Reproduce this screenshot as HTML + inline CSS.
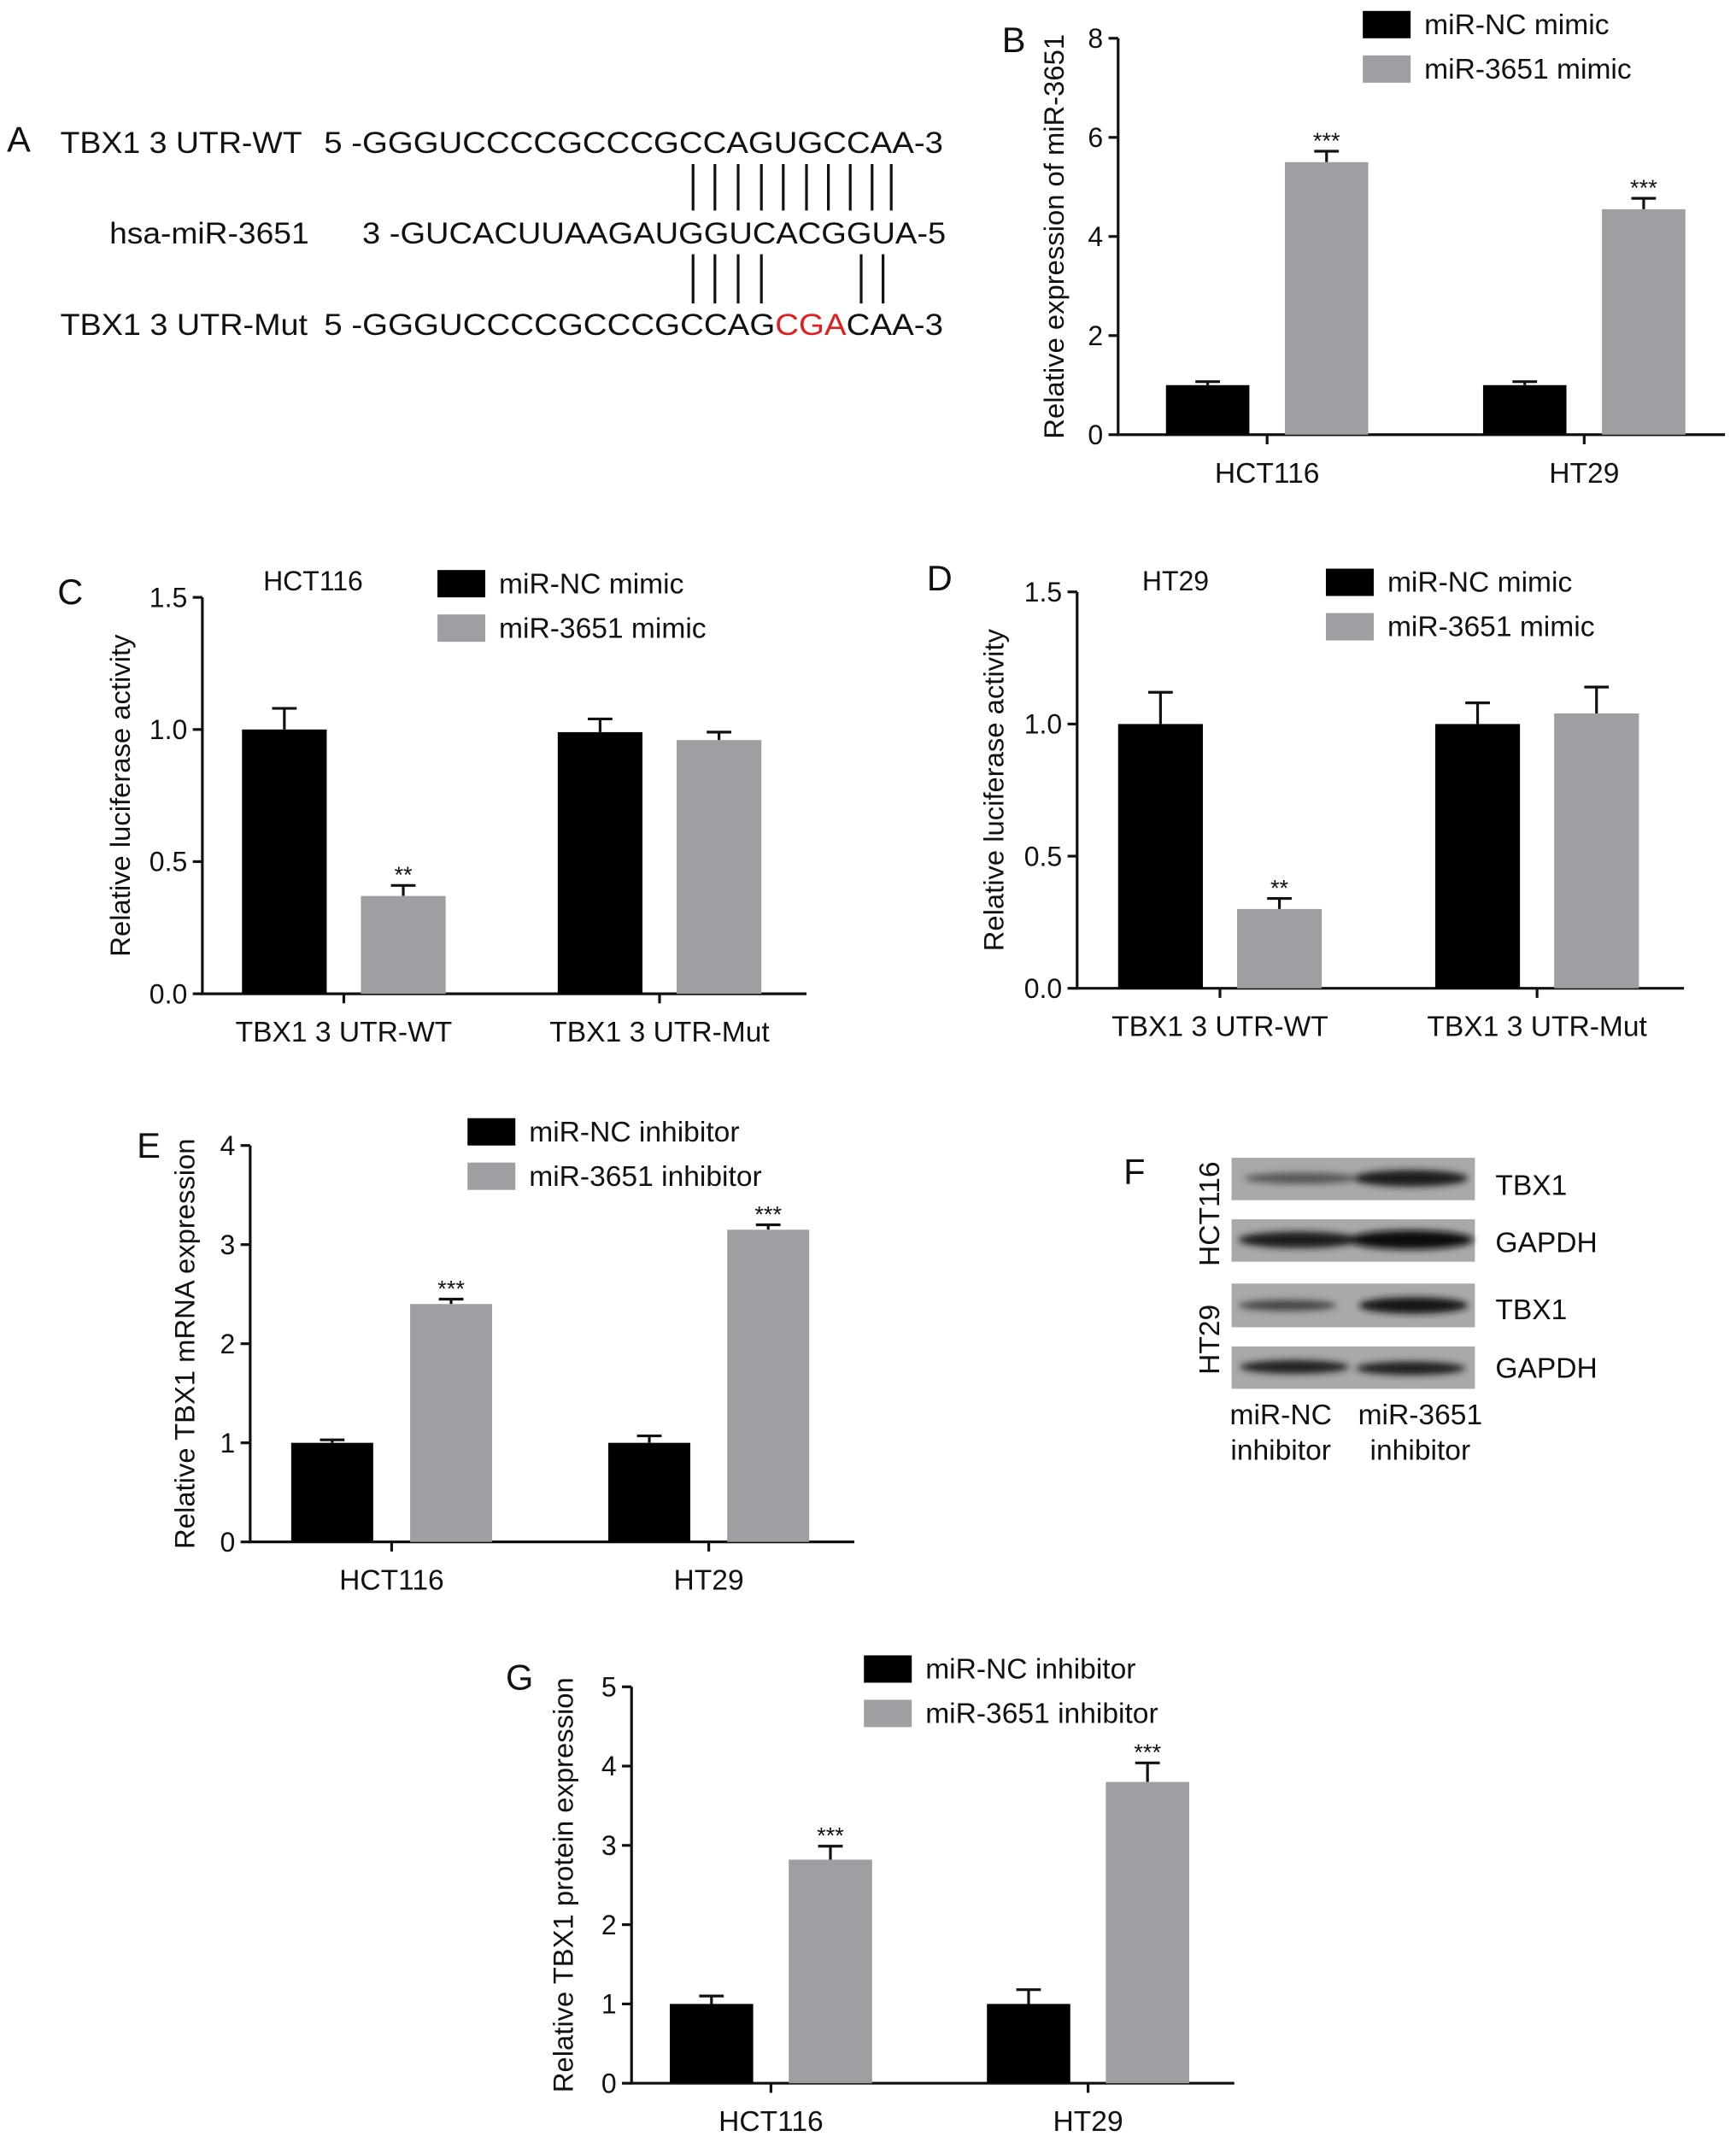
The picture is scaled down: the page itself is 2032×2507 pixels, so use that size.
<!DOCTYPE html>
<html><head><meta charset="utf-8"><style>
html,body{margin:0;padding:0;background:#fff;}
svg{display:block;font-family:"Liberation Sans",Arial,sans-serif;}
</style></head><body>
<svg id="fig" width="2032" height="2507" viewBox="0 0 1270 1567" xmlns="http://www.w3.org/2000/svg">
<defs>
<filter id="blur" x="-20%" y="-50%" width="140%" height="200%"><feGaussianBlur stdDeviation="2.5"/></filter>
</defs>
<!-- Panel A -->
<g font-size="22" fill="#111">
<text x="5" y="111" font-size="26">A</text>
<text x="44" y="112" textLength="177" lengthAdjust="spacingAndGlyphs">TBX1 3 UTR-WT</text>
<text x="237" y="112" textLength="453" lengthAdjust="spacingAndGlyphs">5 -GGGUCCCCGCCCGCCAGUGCCAA-3</text>
<text x="80" y="178" textLength="146" lengthAdjust="spacingAndGlyphs">hsa-miR-3651</text>
<text x="265" y="178" textLength="427" lengthAdjust="spacingAndGlyphs">3 -GUCACUUAAGAUGGUCACGGUA-5</text>
<text x="44" y="245" textLength="181" lengthAdjust="spacingAndGlyphs">TBX1 3 UTR-Mut</text>
<text x="237" y="245" textLength="453" lengthAdjust="spacingAndGlyphs">5 -GGGUCCCCGCCCGCCAG<tspan fill="#e02020">CGA</tspan>CAA-3</text>
<g stroke="#111" stroke-width="2">
<line x1="507" y1="120" x2="507" y2="154"/><line x1="523" y1="120" x2="523" y2="154"/><line x1="540" y1="120" x2="540" y2="154"/><line x1="557" y1="120" x2="557" y2="154"/><line x1="573" y1="120" x2="573" y2="154"/><line x1="590" y1="120" x2="590" y2="154"/><line x1="606" y1="120" x2="606" y2="154"/><line x1="622" y1="120" x2="622" y2="154"/><line x1="638" y1="120" x2="638" y2="154"/><line x1="652" y1="120" x2="652" y2="154"/>
</g>
<g stroke="#111" stroke-width="2">
<line x1="507" y1="186" x2="507" y2="222"/><line x1="523" y1="186" x2="523" y2="222"/><line x1="540" y1="186" x2="540" y2="222"/><line x1="557" y1="186" x2="557" y2="222"/><line x1="630" y1="186" x2="630" y2="222"/><line x1="646" y1="186" x2="646" y2="222"/>
</g>
</g>
<!-- Panel F -->
<g font-size="21" fill="#111">
<text x="822" y="866" font-size="26">F</text>
<rect x="901" y="847" width="178" height="31" fill="#a9a9a9"/>
<rect x="901" y="892" width="178" height="31" fill="#a9a9a9"/>
<rect x="901" y="939" width="178" height="32" fill="#a9a9a9"/>
<rect x="901" y="985" width="178" height="31" fill="#a9a9a9"/>
<g filter="url(#blur)">
<ellipse cx="952" cy="862" rx="42" ry="4" fill="#555"/><ellipse cx="1032" cy="862" rx="42" ry="6" fill="#1a1a1a"/>
<ellipse cx="950" cy="907" rx="44" ry="6" fill="#1a1a1a"/><ellipse cx="1032" cy="907" rx="46" ry="7" fill="#111"/>
<ellipse cx="942" cy="955" rx="36" ry="4" fill="#444"/><ellipse cx="1034" cy="955" rx="40" ry="6" fill="#151515"/>
<ellipse cx="947" cy="1000" rx="40" ry="5" fill="#222"/><ellipse cx="1032" cy="1001" rx="40" ry="5" fill="#222"/>
</g>
<text x="1094" y="874">TBX1</text>
<text x="1094" y="916">GAPDH</text>
<text x="1094" y="965">TBX1</text>
<text x="1094" y="1008">GAPDH</text>
<text transform="translate(892,888) rotate(-90)" text-anchor="middle">HCT116</text>
<text transform="translate(892,980) rotate(-90)" text-anchor="middle">HT29</text>
<text x="937" y="1042" text-anchor="middle">miR-NC</text>
<text x="937" y="1068" text-anchor="middle">inhibitor</text>
<text x="1039" y="1042" text-anchor="middle">miR-3651</text>
<text x="1039" y="1068" text-anchor="middle">inhibitor</text>
</g>
<g id="charts"></g>
</svg>
<script>
// Panel B data
const bCats = ["HCT116","HT29"];
const bNC = [1.0, 1.0];
const bNCerr = [0.07, 0.07];
const bMim = [5.5, 4.55];
const bMimErr = [0.22, 0.22];
const bTicks = [0,2,4,6,8];
const bSig = ["","***","","***"];
// Panel C data
const cCats = ["TBX1 3 UTR-WT","TBX1 3 UTR-Mut"];
const cNC = [1.0, 0.99];
const cNCerr = [0.08, 0.05];
const cMim = [0.37, 0.96];
const cMimErr = [0.04, 0.03];
const cTicks = ["0.0","0.5","1.0","1.5"];
const cSig = ["","**","",""];
// Panel D data
const dCats = ["TBX1 3 UTR-WT","TBX1 3 UTR-Mut"];
const dNC = [1.0, 1.0];
const dNCerr = [0.12, 0.08];
const dMim = [0.3, 1.04];
const dMimErr = [0.04, 0.1];
const dTicks = ["0.0","0.5","1.0","1.5"];
const dSig = ["","**","",""];
// Panel E data
const eCats = ["HCT116","HT29"];
const eNC = [1.0, 1.0];
const eNCerr = [0.03, 0.07];
const eInh = [2.4, 3.15];
const eInhErr = [0.05, 0.05];
const eTicks = [0,1,2,3,4];
const eSig = ["","***","","***"];
// Panel G data
const gCats = ["HCT116","HT29"];
const gNC = [1.0, 1.0];
const gNCerr = [0.1, 0.18];
const gInh = [2.82, 3.8];
const gInhErr = [0.17, 0.24];
const gTicks = [0,1,2,3,4,5];
const gSig = ["","***","","***"];

const NS="http://www.w3.org/2000/svg";
const root=document.getElementById("charts");
function mk(tag,attrs,parent,txt){const e=document.createElementNS(NS,tag);for(const k in attrs)e.setAttribute(k,attrs[k]);if(txt!==undefined)e.textContent=txt;parent.appendChild(e);return e;}

function chart(o){
  const g=mk("g",{},root);
  
  
  const maxV=parseFloat(o.ticks[o.ticks.length-1]);
  const y=v=>o.y0-(v/maxV)*(o.y0-o.yTop);
  const ax=mk("path",{d:`M${o.ax},${o.yTop} V${o.y0} H${o.axEnd}`,stroke:"#111","stroke-width":2,fill:"none"},g);
  
  
  o.ticks.forEach(t=>{
    const v=parseFloat(t),yy=y(v);
    mk("line",{x1:o.ax-7,x2:o.ax,y1:yy,y2:yy,stroke:"#111","stroke-width":2},g);
    const tl=mk("text",{x:o.ax-11,y:yy+7,"text-anchor":"end","font-size":20,fill:"#111"},g,String(t));
    
    
  });
  const yt=mk("text",{transform:`translate(${o.titleX},${(o.y0+o.yTop)/2}) rotate(-90)`,"text-anchor":"middle","font-size":20.5,fill:"#111"},g,o.ytitle);
  
  
  const series=[[o.s1,o.e1,"#000"],[o.s2,o.e2,"#9e9ea3"]];
  o.cats.forEach((c,i)=>{
    const gx=o.first+i*o.groupStep;
    series.forEach((s,j)=>{
      const x=gx+j*o.barStep, v=s[0][i], e=s[1][i];
      const top=y(v), et=y(v+e);
      mk("line",{x1:x+o.bw/2,x2:x+o.bw/2,y1:top,y2:et,stroke:"#111","stroke-width":2},g);
      mk("line",{x1:x+o.bw/2-9,x2:x+o.bw/2+9,y1:et,y2:et,stroke:"#111","stroke-width":2},g);
      const r=mk("rect",{x:x,y:top,width:o.bw,height:o.y0-top,fill:s[2]},g);
      
      
      const sg=o.sig[i*2+j];
      if(sg){const st=mk("text",{x:x+o.bw/2,y:et-2,"text-anchor":"middle","font-size":17,fill:"#111"},g,sg);
        
        }
    });
    const cx=gx+(o.barStep+o.bw)/2;
    mk("line",{x1:cx,x2:cx,y1:o.y0,y2:o.y0+7,stroke:"#111","stroke-width":2},g);
    const xl=mk("text",{x:cx,y:o.y0+35,"text-anchor":"middle","font-size":21,fill:"#111"},g,c);
    
    
  });
  o.leg.forEach((l,k)=>{
    const ly=o.legY+k*32.5;
    const lr=mk("rect",{x:o.legX,y:ly,width:35,height:20,fill:k?"#9e9ea3":"#000"},g);
    
    
    const lt=mk("text",{x:o.legX+45,y:ly+17,"font-size":21,fill:"#111"},g,l);
    
    
  });
  const pl=mk("text",{x:o.pl[0],y:o.pl[1],"font-size":26,fill:"#111"},g,o.letter);
  
  
  if(o.title){const tt=mk("text",{x:o.title[0],y:o.title[1],"text-anchor":"middle","font-size":20,fill:"#111"},g,o.title[2]);
    
    }
}
const mim=["miR-NC mimic","miR-3651 mimic"], inh=["miR-NC inhibitor","miR-3651 inhibitor"];
chart({name:"panel-b-chart",letter:"B",pl:[733,38],ax:818,axEnd:1262,y0:318,yTop:28,ticks:bTicks,cats:bCats,s1:bNC,e1:bNCerr,s2:bMim,e2:bMimErr,sig:bSig,first:853,groupStep:232,barStep:87,bw:61,titleX:778,ytitle:"Relative expression of miR-3651",leg:mim,legX:997,legY:8});
chart({name:"panel-c-chart",letter:"C",pl:[42,442],ax:148,axEnd:590,y0:727,yTop:437,ticks:cTicks,cats:cCats,s1:cNC,e1:cNCerr,s2:cMim,e2:cMimErr,sig:cSig,first:177,groupStep:231,barStep:87,bw:62,titleX:95,ytitle:"Relative luciferase activity",leg:mim,legX:320,legY:417,title:[229,432,"HCT116"]});
chart({name:"panel-d-chart",letter:"D",pl:[678,432],ax:788,axEnd:1232,y0:723,yTop:433,ticks:dTicks,cats:dCats,s1:dNC,e1:dNCerr,s2:dMim,e2:dMimErr,sig:dSig,first:818,groupStep:232,barStep:87,bw:62,titleX:734,ytitle:"Relative luciferase activity",leg:mim,legX:970,legY:416,title:[860,432,"HT29"]});
chart({name:"panel-e-chart",letter:"E",pl:[100,847],ax:183,axEnd:625,y0:1128,yTop:838,ticks:eTicks,cats:eCats,s1:eNC,e1:eNCerr,s2:eInh,e2:eInhErr,sig:eSig,first:213,groupStep:232,barStep:87,bw:60,titleX:142,ytitle:"Relative TBX1 mRNA expression",leg:inh,legX:342,legY:818});
chart({name:"panel-g-chart",letter:"G",pl:[370,1236],ax:462,axEnd:903,y0:1524,yTop:1234,ticks:gTicks,cats:gCats,s1:gNC,e1:gNCerr,s2:gInh,e2:gInhErr,sig:gSig,first:490,groupStep:232,barStep:87,bw:61,titleX:419,ytitle:"Relative TBX1 protein expression",leg:inh,legX:632,legY:1211});
</script>
</body></html>
